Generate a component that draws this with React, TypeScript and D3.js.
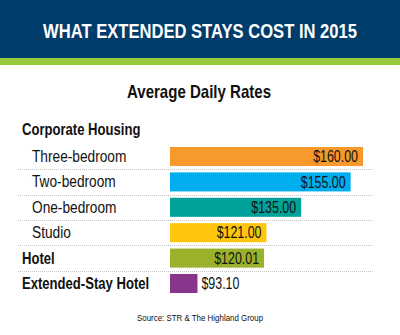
import React from "react";
import * as d3 from "d3";

const categories = ["Three-bedroom", "Two-bedroom", "One-bedroom", "Studio", "Hotel", "Extended-Stay Hotel"];
const values = [160.0, 155.0, 135.0, 121.0, 120.01, 93.1];
const valueLabels = ["$160.00", "$155.00", "$135.00", "$121.00", "$120.01", "$93.10"];
const boldRows = [false, false, false, false, true, true];
const colors = ["#f7992b", "#00adee", "#00a198", "#ffc60d", "#99b12b", "#88368c"];
const groupLabel = "Corporate Housing";
const title = "WHAT EXTENDED STAYS COST IN 2015";
const subtitle = "Average Daily Rates";
const source = "Source: STR & The Highland Group";

const W = 400;
const H = 335;
const FONT = "'Liberation Sans', Arial, Helvetica, sans-serif";

type STextProps = {
  x: number;
  y: number;
  sx: number;
  size: number;
  bold?: boolean;
  anchor?: "start" | "middle" | "end";
  fill?: string;
  children: React.ReactNode;
};

function SText({ x, y, sx, size, bold, anchor = "start", fill = "#111", children }: STextProps) {
  return (
    <g transform={`translate(${x},${y}) scale(${sx},1)`}>
      <text x={0} y={0} textAnchor={anchor} fill={fill} fontFamily={FONT} fontWeight={bold ? "bold" : "normal"} fontSize={size}>
        {children}
      </text>
    </g>
  );
}

export default function App() {
  const x = d3.scaleLinear().domain([82, 160]).range([170, 363]);
  const y = d3.scaleBand<string>().domain(categories).range([143.8, 296.2]).paddingInner(0.25).paddingOuter(0.126);
  const bw = y.bandwidth();
  const step = y.step();
  const x0 = x.range()[0];

  return (
    <svg width={W} height={H} style={{ position: "absolute", left: 0, top: 0, background: "#fff" }}>
      <rect x={0} y={0} width={W} height={58} fill="#003d6a" />
      <rect x={0} y={58} width={W} height={7} fill="#99c93c" />
      <SText x={200} y={38} sx={0.86} size={19.3} bold anchor="middle" fill="#fff">{title}</SText>

      <SText x={199} y={97.5} sx={0.86} size={17.5} bold anchor="middle">{subtitle}</SText>

      <SText x={22} y={135} sx={0.77} size={17} bold>{groupLabel}</SText>

      {categories.slice(0, -1).map((c) => {
        const yy = Math.round((y(c) as number) + bw + (step - bw) / 2) + 0.5;
        return <line key={"sep" + c} x1={18} x2={373} y1={yy} y2={yy} stroke="#c4c4c4" strokeWidth={1} strokeDasharray="1,1" />;
      })}

      {categories.map((c, i) => {
        const y0 = y(c) as number;
        const xEnd = x(values[i]);
        const inside = xEnd - x0 > 60;
        const cy = y0 + bw / 2;
        return (
          <g key={c}>
            <rect x={x0} y={y0} width={xEnd - x0} height={bw} fill={colors[i]} />
            <SText x={boldRows[i] ? 22 : 32} y={cy + 5.5} sx={boldRows[i] ? 0.77 : 0.83} size={boldRows[i] ? 17 : 16.5} bold={boldRows[i]}>{c}</SText>
            <SText x={inside ? xEnd - 5 : xEnd + 4} y={cy + 5.8} sx={0.73} size={17} anchor={inside ? "end" : "start"}>{valueLabels[i]}</SText>
          </g>
        );
      })}

      <SText x={200} y={321} sx={0.88} size={9} anchor="middle">{source}</SText>
    </svg>
  );
}
